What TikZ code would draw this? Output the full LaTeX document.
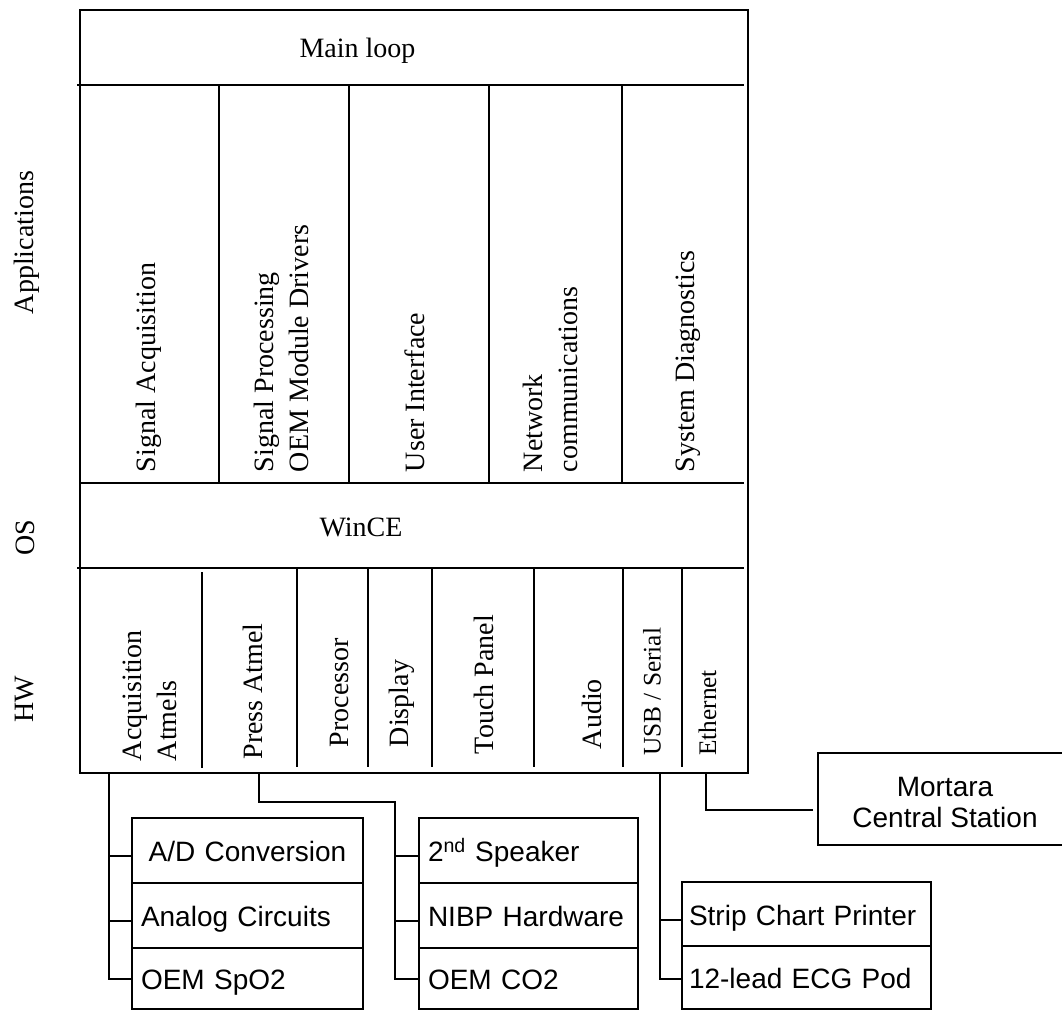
\documentclass[tikz,border=0pt]{standalone}
\usepackage{fontspec}
\setmainfont{Liberation Serif}
\newfontfamily\sansf{Liberation Sans}
\begin{document}
\begin{tikzpicture}[x=1pt,y=-1pt,line width=2pt,
  serif/.style={font=\fontsize{28}{35}\selectfont, inner sep=0pt},
  serifs/.style={font=\fontsize{25.3}{30}\selectfont, inner sep=0pt},
  vlab/.style={rotate=90, anchor=west, inner sep=0pt, align=left},
  cell/.style={draw, line width=2pt, anchor=north west, inner ysep=0pt,
    font=\sansf\fontsize{28}{32}\selectfont, text height=26pt, text depth=4pt, align=left},
  cellL/.style={cell, inner xsep=9pt, text width=213pt, minimum height=65pt},
  cellM/.style={cell, inner xsep=9pt, text width=201pt, minimum height=65pt},
  cellR/.style={cell, inner xsep=7pt, text width=235pt, minimum height=64pt},
  wire/.style={draw, line width=2pt}
]
\useasboundingbox (0,0) rectangle (1062,1011);

% main frame
\draw (80,10) rectangle (748,773);
\draw (77,85) -- (744,85);
\draw (80,483) -- (744,483);
\draw (77,568) -- (744,568);
\foreach \x in {219,349,489,622} \draw (\x,85) -- (\x,483);
\draw (202,572) -- (202,768);
\foreach \x in {297,368,432,534,623,682} \draw (\x,568) -- (\x,767);

% layer labels
\node[serif, rotate=90] (lapp) at (26.5,242.5) {Applications};
\node[serif, rotate=90] (los) at (25,537.5) {OS};
\node[serif, rotate=90] (lhw) at (25,699) {HW};

\node[serif] (mainloop) at (357.5,50.5) {Main loop};
\node[serif] (wince) at (361,527) {WinCE};

% applications
\node[serif, vlab] (sa) at (149,473) {Signal Acquisition};
\node[serif, vlab] (sp) at (281,473) {Signal Processing\\OEM Module Drivers};
\node[serif, vlab] (ui) at (415,473) {User Interface};
\node[serif, vlab] (nc) at (550,473) {Network\\communications};
\node[serif, vlab] (sd) at (688.5,473) {System Diagnostics};

% hardware
\node[serif, vlab] (hacq) at (150,762) {Acquisition\\Atmels};
\node[serif, vlab] (hpress) at (253,760.5) {Press Atmel};
\node[serif, vlab] (hproc) at (339,748) {Processor};
\node[serif, vlab] (hdisp) at (402,748) {Display};
\node[serif, vlab] (htouch) at (483.5,755) {Touch Panel};
\node[serif, vlab] (haudio) at (592,750) {Audio};
\node[serifs, vlab] (husb) at (652,756.7) {USB / Serial};
\node[serifs, vlab] (heth) at (707.5,756.7) {Ethernet};

% connector start points on the frame bottom
\coordinate (acq) at (109,773);
\coordinate (press) at (259,773);
\coordinate (pressbend) at (395,802);
\coordinate (usb) at (660,773);
\coordinate (eth) at (706,773);

% peripheral boxes
\node[cellL, align=center] (ad) at (131,817) {A/D Conversion};
\node[cellL] (an) at (131,882) {Analog Circuits};
\node[cellL, minimum height=61pt] (spo2) at (131,947) {OEM SpO2};

\node[cellM] (spk) at (418,817) {2\textsuperscript{nd} Speaker};
\node[cellM] (nibp) at (418,882) {NIBP Hardware};
\node[cellM, minimum height=61pt] (co2) at (418,947) {OEM CO2};

\node[cellR] (strip) at (681,881) {Strip Chart Printer};
\node[cellR, minimum height=63pt] (ecg) at (681,945) {12-lead ECG Pod};

\node[draw, line width=2pt, anchor=north west, inner sep=0pt,
  minimum width=246pt, minimum height=92pt] (mortara) at (817,752) {};
\node[font=\sansf\fontsize{28}{31}\selectfont, align=center, inner sep=0pt]
  (mortaratext) at (945,802.5) {Mortara\\Central Station};

% stub end points on the boxes
\coordinate (adS) at ([yshift=-5pt]ad.west);
\coordinate (anS) at ([yshift=-5pt]an.west);
\coordinate (spkS) at ([yshift=-5pt]spk.west);
\coordinate (nibpS) at ([yshift=-5pt]nibp.west);
\coordinate (stripS) at ([yshift=-6pt]strip.west);
\coordinate (ecgS) at ([yshift=-1pt]ecg.west);
\coordinate (mortS) at ([yshift=-11pt]mortara.west);

% connectors
\draw[wire] (acq) |- (spo2.west);
\draw[wire] (acq |- adS) -- (adS);
\draw[wire] (acq |- anS) -- (anS);

\draw[wire] (press) |- (pressbend) |- (co2.west);
\draw[wire] (pressbend |- spkS) -- (spkS);
\draw[wire] (pressbend |- nibpS) -- (nibpS);

\draw[wire] (usb) |- (ecgS);
\draw[wire] (usb |- stripS) -- (stripS);

\draw[wire, shorten >=4pt] (eth) |- (mortS);
\end{tikzpicture}
\end{document}
